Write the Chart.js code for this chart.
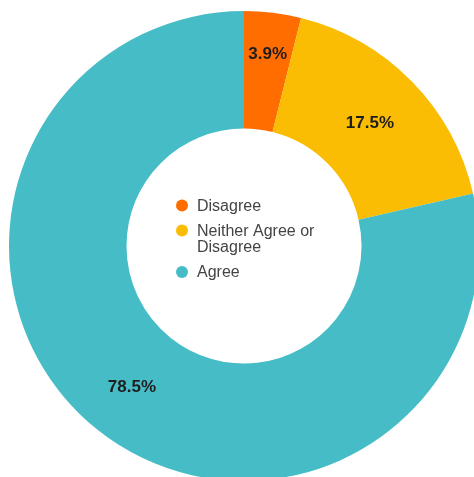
<!DOCTYPE html>
<html>
<head>
<meta charset="utf-8">
<script src="https://cdn.jsdelivr.net/npm/chart.js@4.4.0/dist/chart.umd.min.js"></script>
<style>
  html, body { margin: 0; padding: 0; background: #ffffff; overflow: hidden; width: 474px; height: 477px; }
  #wrap { position: absolute; left: 8.6px; top: 11px; width: 470px; height: 470px; }
</style>
</head>
<body>
<div id="wrap"><canvas id="c"></canvas></div>
<script>
const categories = ["Disagree", "Neither Agree or Disagree", "Agree"];
const values = [3.9, 17.5, 78.5];
const colors = ["#FF6D01", "#FBBC04", "#46BDC6"];

const sliceLabels = {
  id: 'sliceLabels',
  afterDatasetsDraw(chart, args, opts) {
    const ctx = chart.ctx;
    const meta = chart.getDatasetMeta(0);
    ctx.save();
    ctx.font = 'bold 17px "Liberation Sans", Arial, sans-serif';
    ctx.fillStyle = '#1e1e1e';
    ctx.textAlign = 'center';
    ctx.textBaseline = 'middle';
    meta.data.forEach((arc, i) => {
      const p = arc.getProps(['x', 'y', 'startAngle', 'endAngle', 'innerRadius', 'outerRadius'], true);
      const mid = (p.startAngle + p.endAngle) / 2;
      const f = opts.radiusFrac[i];
      const r = p.innerRadius + f * (p.outerRadius - p.innerRadius);
      const v = chart.data.datasets[0].data[i];
      ctx.fillText(v.toFixed(1) + '%', p.x + Math.cos(mid) * r, p.y + Math.sin(mid) * r + 1);
    });
    ctx.restore();
  }
};

const centerLegend = {
  id: 'centerLegend',
  afterDraw(chart, args, opts) {
    const ctx = chart.ctx;
    const meta = chart.getDatasetMeta(0);
    const a = meta.data[0];
    const cx = a.x, cy = a.y;
    ctx.save();
    ctx.font = '16px "Liberation Sans", Arial, sans-serif';
    ctx.textBaseline = 'middle';
    ctx.textAlign = 'left';
    let y = cy + opts.top;
    chart.data.labels.forEach((lab, i) => {
      // wrap
      const words = lab.split(' ');
      const lines = [];
      let cur = '';
      words.forEach(w => {
        const t = cur ? cur + ' ' + w : w;
        if (ctx.measureText(t).width > opts.maxWidth && cur) { lines.push(cur); cur = w; }
        else cur = t;
      });
      if (cur) lines.push(cur);
      ctx.fillStyle = chart.data.datasets[0].backgroundColor[i];
      ctx.beginPath();
      ctx.arc(cx + opts.dotX, y, 6, 0, Math.PI * 2);
      ctx.fill();
      ctx.fillStyle = '#444444';
      lines.forEach((ln, k) => {
        ctx.fillText(ln, cx + opts.textX, y + k * opts.lineHeight + 1);
      });
      y += lines.length * opts.lineHeight + opts.gap;
    });
    ctx.restore();
  }
};

new Chart(document.getElementById('c'), {
  type: 'doughnut',
  data: {
    labels: categories,
    datasets: [{
      data: values,
      backgroundColor: colors,
      borderWidth: 0,
      hoverOffset: 0
    }]
  },
  options: {
    responsive: true,
    maintainAspectRatio: false,
    animation: false,
    cutout: '50%',
    layout: { padding: 0 },
    plugins: {
      legend: { display: false },
      tooltip: { enabled: false },
      sliceLabels: { radiusFrac: [0.65, 0.5, 0.53] },
      centerLegend: { top: -40.5, dotX: -62, textX: -47, lineHeight: 16.5, gap: 8.5, maxWidth: 125 }
    }
  },
  plugins: [sliceLabels, centerLegend]
});
</script>
</body>
</html>
